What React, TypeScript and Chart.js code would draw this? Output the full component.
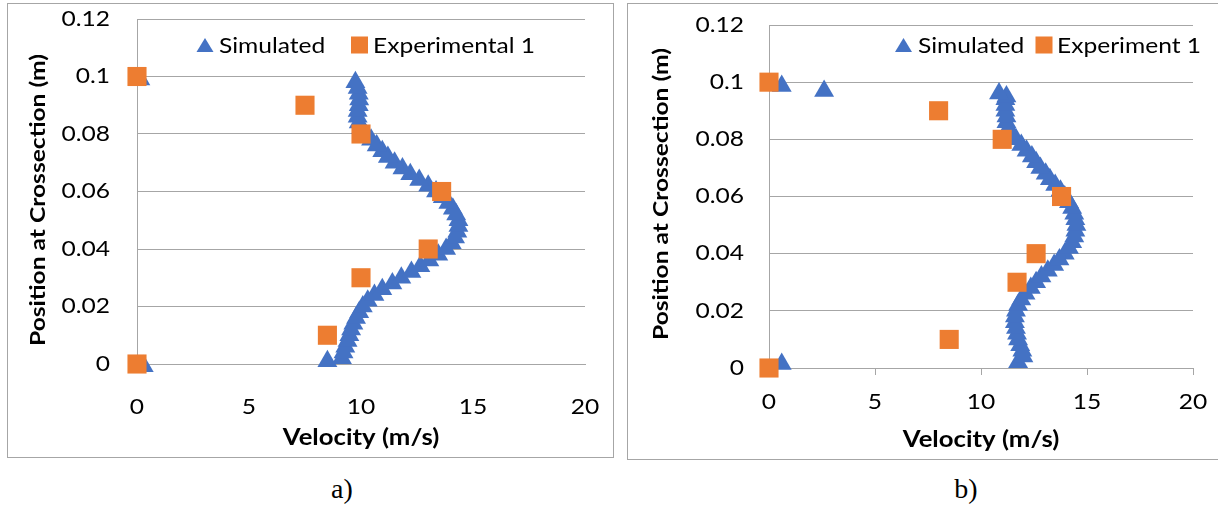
import React, { useEffect, useRef } from "react";
import { Chart, registerables } from "chart.js";

Chart.register(...registerables);

// ---------- data ----------
const X_TICKS = [0, 5, 10, 15, 20];
const X_TICK_LABELS = ["0", "5", "10", "15", "20"];
const Y_TICKS = [0, 0.02, 0.04, 0.06, 0.08, 0.1, 0.12];
const Y_TICK_LABELS = ["0", "0.02", "0.04", "0.06", "0.08", "0.1", "0.12"];

const X_TITLE = "Velocity (m/s)";
const Y_TITLE = "Position at Crossection (m)";

// Panel a)
const simAVelocity = [
  0.15, 0.3, 8.5,
  9.15, 9.22, 9.3, 9.4, 9.48, 9.56, 9.66, 9.78, 9.92, 10.08,
  10.3, 10.6, 10.95, 11.4, 11.8, 12.25, 12.65, 13.05, 13.45, 13.8,
  14.05, 14.2, 14.3, 14.35, 14.35, 14.25, 14.1, 13.9, 13.65, 13.35,
  13.0, 12.6, 12.2, 11.85, 11.5, 11.2, 10.95, 10.7, 10.45, 10.2,
  10.0, 9.9, 9.85, 9.85, 9.9, 9.92, 9.9, 9.85, 9.75,
];
const simAPosition = [
  0.099, -0.0008, 0.001,
  0.002, 0.004, 0.006, 0.008, 0.01, 0.012, 0.014, 0.016, 0.018, 0.02,
  0.022, 0.024, 0.026, 0.028, 0.03, 0.032, 0.034, 0.036, 0.038, 0.04,
  0.042, 0.044, 0.046, 0.048, 0.05, 0.052, 0.054, 0.056, 0.058, 0.06,
  0.062, 0.064, 0.066, 0.068, 0.07, 0.072, 0.074, 0.076, 0.078, 0.08,
  0.082, 0.084, 0.086, 0.088, 0.09, 0.092, 0.094, 0.096, 0.098,
];
const expAVelocity = [0, 7.5, 10, 13.6, 13, 10, 8.5, 0];
const expAPosition = [0.1, 0.09, 0.08, 0.06, 0.04, 0.03, 0.01, 0];

// Panel b)
const simBVelocity = [
  0.6, 2.6, 0.6,
  11.75, 12.0, 11.95, 11.85, 11.75, 11.7, 11.65, 11.6, 11.6, 11.65,
  11.75, 11.9, 12.1, 12.35, 12.6, 12.85, 13.15, 13.45, 13.7, 13.95,
  14.15, 14.3, 14.4, 14.45, 14.5, 14.45, 14.4, 14.3, 14.15, 13.95,
  13.75, 13.5, 13.25, 13.05, 12.8, 12.6, 12.4, 12.15, 11.9, 11.65,
  11.4, 11.3, 11.2, 11.2, 11.15, 11.15, 11.15, 11.2, 10.85,
];
const simBPosition = [
  0.0987, 0.0969, 0.0014,
  0.002, 0.004, 0.006, 0.008, 0.01, 0.012, 0.014, 0.016, 0.018, 0.02,
  0.022, 0.024, 0.026, 0.028, 0.03, 0.032, 0.034, 0.036, 0.038, 0.04,
  0.042, 0.044, 0.046, 0.048, 0.05, 0.052, 0.054, 0.056, 0.058, 0.06,
  0.062, 0.064, 0.066, 0.068, 0.07, 0.072, 0.074, 0.076, 0.078, 0.08,
  0.082, 0.084, 0.086, 0.088, 0.09, 0.092, 0.094, 0.095, 0.096,
];
const expBVelocity = [0, 8, 11, 13.8, 12.6, 11.7, 8.5, 0];
const expBPosition = [0.1, 0.09, 0.08, 0.06, 0.04, 0.03, 0.01, 0];

// ---------- styles ----------
const BLUE = "#4472C4";
const ORANGE = "#ED7D31";
const GRID = "#a6a6a6";
const FONT = "Lato";
const TEXT_STRETCH = 1.17; // widen glyphs along the baseline to match the reference font

const toPoints = (xs: number[], ys: number[]) => xs.map((x, i) => ({ x, y: ys[i] }));

const stretchText = {
  id: "stretchText",
  beforeInit(chart: any) {
    const ctx = chart.ctx as any;
    if (ctx.__stretched) return;
    const orig = ctx.fillText;
    ctx.fillText = function (text: string, x: number, y: number, maxWidth?: number) {
      this.save();
      this.translate(x, y);
      this.scale(TEXT_STRETCH, 1);
      if (maxWidth === undefined) orig.call(this, text, 0, 0);
      else orig.call(this, text, 0, 0, maxWidth);
      this.restore();
    };
    ctx.__stretched = true;
  },
};

const inAreaLegend = {
  id: "inAreaLegend",
  afterDraw(chart: any, _args: any, opts: any) {
    const ctx = chart.ctx as CanvasRenderingContext2D;
    const items = opts.items || [];
    chart.data.datasets.forEach((ds: any, i: number) => {
      const it = items[i];
      if (!it) return;
      ctx.save();
      ctx.fillStyle = ds.backgroundColor;
      if (ds.pointStyle === "triangle") {
        ctx.beginPath();
        ctx.moveTo(it.mx, it.my - 7);
        ctx.lineTo(it.mx + 8.5, it.my + 7);
        ctx.lineTo(it.mx - 8.5, it.my + 7);
        ctx.closePath();
        ctx.fill();
      } else {
        ctx.fillRect(it.mx - 8.5, it.my - 8.5, 17, 17);
      }
      ctx.fillStyle = "#000";
      ctx.font = `${opts.fontSize}px ${FONT}`;
      ctx.textBaseline = "middle";
      ctx.textAlign = "left";
      ctx.fillText(ds.label, it.tx, it.my + 1);
      ctx.restore();
    });
  },
};

const sideTitle = {
  id: "sideTitle",
  afterDraw(chart: any, _args: any, opts: any) {
    const ctx = chart.ctx as CanvasRenderingContext2D;
    ctx.save();
    ctx.translate(opts.x, opts.y);
    ctx.rotate(-Math.PI / 2);
    ctx.font = `bold ${opts.fontSize}px ${FONT}`;
    ctx.fillStyle = "#000";
    ctx.textAlign = "center";
    ctx.textBaseline = "middle";
    ctx.fillText(opts.text, 0, 0);
    ctx.restore();
  },
};

type PanelCfg = {
  left: number;
  top: number;
  width: number;
  height: number;
  sim: { x: number; y: number }[];
  exp: { x: number; y: number }[];
  expLabel: string;
  padTop: number;
  padRight: number;
  yWidth: number;
  xHeight: number;
  yTickPad: number;
  yTitleX: number;
  yTitleY: number;
  xTickPad: number;
  xTickMarks: boolean;
  xTitlePad: number;
  legend: { mx: number; my: number; tx: number }[];
};

function Panel({ cfg }: { cfg: PanelCfg }) {
  const ref = useRef<HTMLCanvasElement>(null);
  useEffect(() => {
    const chart = new Chart(ref.current as HTMLCanvasElement, {
      type: "scatter",
      data: {
        datasets: [
          {
            label: "Simulated",
            data: cfg.sim,
            pointStyle: "triangle",
            pointRadius: 11.5,
            pointHoverRadius: 11.5,
            backgroundColor: BLUE,
            borderColor: BLUE,
            borderWidth: 0,
            order: 1,
            clip: false,
          } as any,
          {
            label: cfg.expLabel,
            data: cfg.exp,
            pointStyle: "rect",
            pointRadius: 13.5,
            pointHoverRadius: 13.5,
            backgroundColor: ORANGE,
            borderColor: ORANGE,
            borderWidth: 0,
            order: 0,
            clip: false,
          } as any,
        ],
      },
      options: {
        responsive: false,
        animation: false,
        events: [],
        layout: { autoPadding: false, padding: { top: cfg.padTop, right: cfg.padRight, left: 0, bottom: 0 } },
        plugins: {
          legend: { display: false },
          tooltip: { enabled: false },
          inAreaLegend: { items: cfg.legend, fontSize: 21 },
          sideTitle: { text: Y_TITLE, x: cfg.yTitleX, y: cfg.yTitleY, fontSize: 21 },
        } as any,
        scales: {
          x: {
            type: "linear",
            min: 0,
            max: 20,
            afterBuildTicks: (s: any) => {
              s.ticks = X_TICKS.map((v) => ({ value: v }));
            },
            afterFit: (s: any) => {
              s.height = cfg.xHeight;
              s.paddingLeft = 0;
              s.paddingRight = 0;
              s.paddingTop = 0;
              s.paddingBottom = 0;
            },
            grid: cfg.xTickMarks
              ? { display: true, drawOnChartArea: false, drawTicks: true, tickLength: 7, color: GRID }
              : { display: false },
            border: { display: true, color: GRID, width: 1 },
            ticks: {
              color: "#000",
              font: { family: FONT, size: 21 },
              padding: cfg.xTickPad,
              maxRotation: 0,
              callback: (v: any) => X_TICK_LABELS[X_TICKS.indexOf(Number(v))],
            },
            title: {
              display: true,
              text: X_TITLE,
              color: "#000",
              font: { family: FONT, size: 22, weight: "bold" },
              padding: { top: 0, bottom: cfg.xTitlePad },
            },
          },
          y: {
            type: "linear",
            min: 0,
            max: 0.12,
            afterBuildTicks: (s: any) => {
              s.ticks = Y_TICKS.map((v) => ({ value: v }));
            },
            afterFit: (s: any) => {
              s.width = cfg.yWidth;
              s.paddingLeft = 0;
              s.paddingRight = 0;
              s.paddingTop = 0;
              s.paddingBottom = 0;
            },
            grid: { display: true, drawTicks: false, color: GRID, lineWidth: 1 },
            border: { display: true, color: GRID, width: 1 },
            ticks: {
              color: "#000",
              font: { family: FONT, size: 21 },
              padding: cfg.yTickPad,
              callback: (v: any) => Y_TICK_LABELS[Y_TICKS.indexOf(Number(v))],
            },
            title: { display: false },
          },
        },
      },
      plugins: [stretchText, inAreaLegend, sideTitle],
    });
    return () => chart.destroy();
  }, []);
  return (
    <div
      style={{
        position: "absolute",
        left: cfg.left,
        top: cfg.top,
        width: cfg.width,
        height: cfg.height,
        border: "1px solid #a6a6a6",
        boxSizing: "border-box",
        background: "#fff",
      }}
    >
      <canvas ref={ref} width={cfg.width - 2} height={cfg.height - 2} style={{ display: "block" }} />
    </div>
  );
}

const panelA: PanelCfg = {
  left: 7,
  top: 3,
  width: 607,
  height: 455,
  sim: toPoints(simAVelocity, simAPosition),
  exp: toPoints(expAVelocity, expAPosition),
  expLabel: "Experimental 1",
  padTop: 15,
  padRight: 28,
  yWidth: 129,
  xHeight: 93,
  yTickPad: 27,
  yTitleX: 30,
  yTitleY: 196,
  xTickPad: 23,
  xTickMarks: false,
  xTitlePad: 6,
  legend: [
    { mx: 197, my: 41, tx: 211 },
    { mx: 351.5, my: 41, tx: 365 },
  ],
};

const panelB: PanelCfg = {
  left: 627,
  top: 3,
  width: 600,
  height: 457,
  sim: toPoints(simBVelocity, simBPosition),
  exp: toPoints(expBVelocity, expBPosition),
  expLabel: "Experiment 1",
  padTop: 21,
  padRight: 33,
  yWidth: 141,
  xHeight: 91,
  yTickPad: 25,
  yTitleX: 33,
  yTitleY: 190,
  xTickPad: 15,
  xTickMarks: true,
  xTitlePad: 6,
  legend: [
    { mx: 275.5, my: 41, tx: 290 },
    { mx: 416, my: 41, tx: 429 },
  ],
};

export default function App() {
  const caption: React.CSSProperties = {
    position: "absolute",
    top: 489,
    transform: "translate(-50%, -50%)",
    fontFamily: "'Liberation Serif', 'Times New Roman', serif",
    fontSize: 28,
    lineHeight: 1,
    color: "#000",
  };
  return (
    <div
      style={{
        position: "absolute",
        left: 0,
        top: 0,
        width: 1218,
        height: 507,
        background: "#fff",
        overflow: "hidden",
      }}
    >
      <Panel cfg={panelA} />
      <Panel cfg={panelB} />
      <div style={{ ...caption, left: 342 }}>a)</div>
      <div style={{ ...caption, left: 966 }}>b)</div>
    </div>
  );
}
